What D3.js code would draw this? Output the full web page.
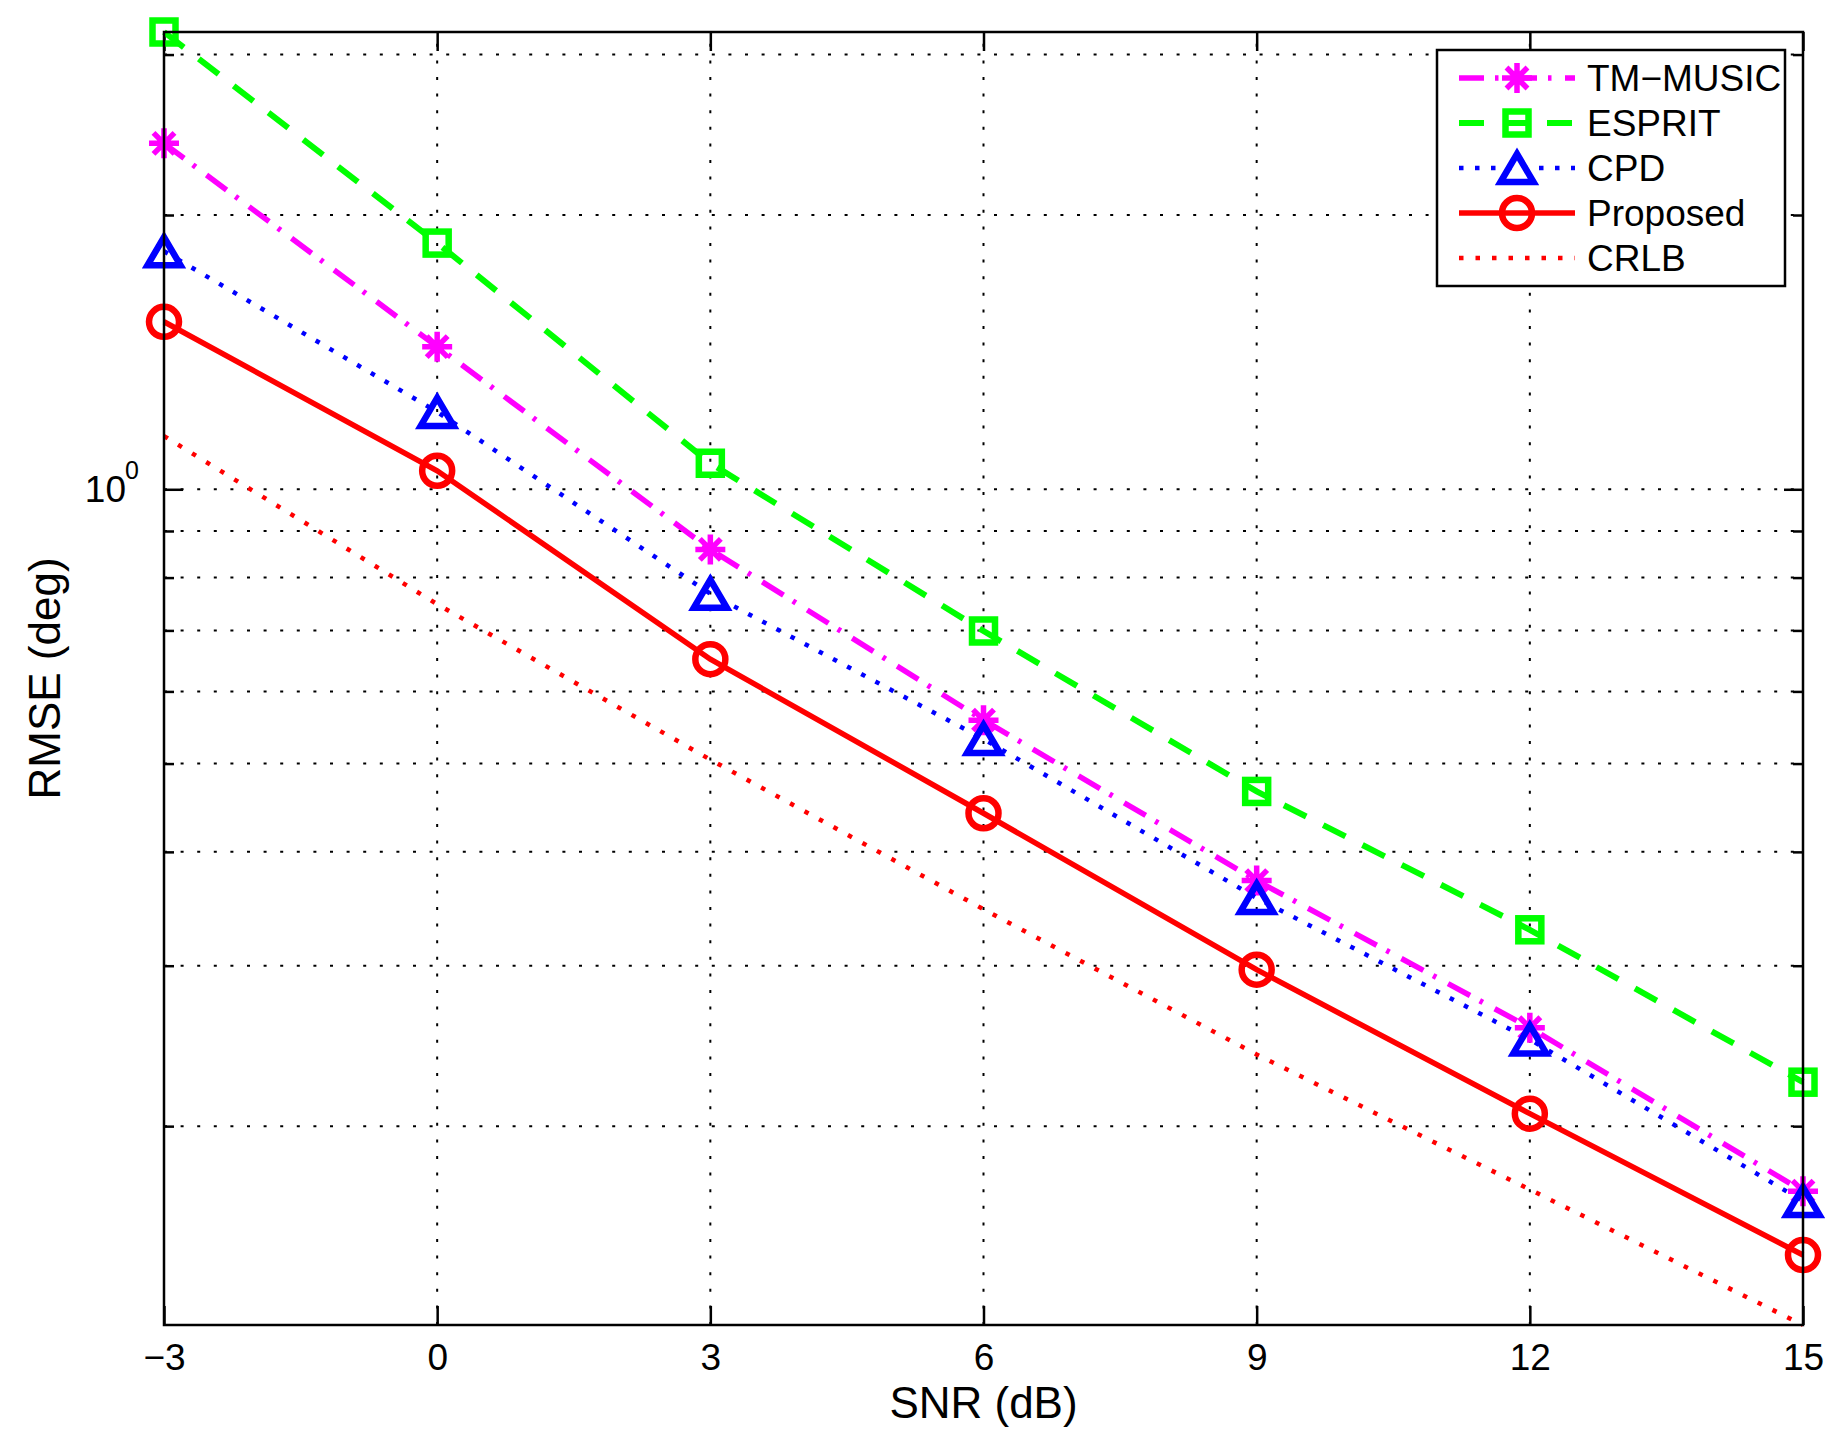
<!DOCTYPE html>
<html>
<head>
<meta charset="utf-8">
<script src="https://cdn.jsdelivr.net/npm/d3@7"></script>
<style>
  body { margin: 0; background: #fff; }
  svg text { font-family: "Liberation Sans", Arial, Helvetica, sans-serif; fill: #000; }
</style>
</head>
<body>
<div id="chart"></div>
<script>
// Data (RMSE in degrees vs SNR in dB)
var snr = [-3, 0, 3, 6, 9, 12, 15];
var tmMusic = [2.397, 1.434, 0.859, 0.558, 0.372, 0.2565, 0.1697];
var esprit = [3.176, 1.863, 1.068, 0.699, 0.466, 0.3285, 0.2235];
var cpd = [1.825, 1.216, 0.768, 0.532, 0.356, 0.249, 0.1655];
var proposed = [1.527, 1.048, 0.651, 0.441, 0.297, 0.2064, 0.1444];
var crlb = [1.144, 0.748, 0.505, 0.346, 0.2397, 0.1704, 0.121];

var seriesNames = ["TM\u2212MUSIC", "ESPRIT", "CPD", "Proposed", "CRLB"];
var xTicks = [-3, 0, 3, 6, 9, 12, 15];
var yMajorTicks = [1];
var yMinorTicks = [0.2, 0.3, 0.4, 0.5, 0.6, 0.7, 0.8, 0.9, 2, 3];
var yDomain = [0.121, 3.176];

// SVG and plot area
var svgWidth = 1847;
var svgHeight = 1449;
var plot = { left: 164, right: 1803, top: 32, bottom: 1325 };

var svg = d3.select("#chart")
    .append("svg")
    .attr("width", svgWidth)
    .attr("height", svgHeight);

var x = d3.scaleLinear().domain([-3, 15]).range([plot.left, plot.right]);
var y = d3.scaleLog().domain(yDomain).range([plot.bottom, plot.top]);

// Dotted grid
var grid = svg.append("g")
    .attr("stroke", "#000")
    .attr("stroke-width", 2)
    .attr("stroke-dasharray", "3,13.6");

grid.selectAll(".vgrid")
    .data(xTicks.slice(1, -1))
    .enter()
    .append("line")
    .attr("x1", d => x(d)).attr("x2", d => x(d))
    .attr("y1", plot.bottom).attr("y2", plot.top);

grid.selectAll(".hgrid")
    .data(yMajorTicks.concat(yMinorTicks))
    .enter()
    .append("line")
    .attr("x1", plot.left).attr("x2", plot.right)
    .attr("y1", d => y(d)).attr("y2", d => y(d));

// Axes with inward ticks on all four sides
function styleAxis(g) {
    g.select(".domain").remove();
    g.selectAll(".tick line").attr("stroke", "#000").attr("stroke-width", 2.5);
    g.selectAll(".tick text").attr("font-size", 37);
}

svg.append("g")
    .attr("transform", `translate(0, ${plot.bottom})`)
    .call(d3.axisBottom(x).tickValues(xTicks).tickSize(-19).tickPadding(19)
        .tickFormat(d => d < 0 ? "\u2212" + Math.abs(d) : d))
    .call(styleAxis);

svg.append("g")
    .attr("transform", `translate(0, ${plot.top})`)
    .call(d3.axisTop(x).tickValues(xTicks).tickSize(-19).tickFormat(""))
    .call(styleAxis);

[["left", plot.left, d3.axisLeft], ["right", plot.right, d3.axisRight]].forEach(function(a) {
    svg.append("g")
        .attr("transform", `translate(${a[1]}, 0)`)
        .call(a[2](y).tickValues(yMajorTicks).tickSize(-19).tickFormat(""))
        .call(styleAxis);
    svg.append("g")
        .attr("transform", `translate(${a[1]}, 0)`)
        .call(a[2](y).tickValues(yMinorTicks).tickSize(-10).tickFormat(""))
        .call(styleAxis);
});

// 10^0 label
svg.append("text")
    .attr("x", 126)
    .attr("y", y(1) + 13)
    .attr("text-anchor", "end")
    .attr("font-size", 37)
    .text("10");
svg.append("text")
    .attr("x", 125)
    .attr("y", y(1) - 10)
    .attr("font-size", 25)
    .text("0");

// Series definitions
var series = [
    { name: seriesNames[0], values: tmMusic, color: "#ff00ff", width: 5.5, dash: "25,11,3.5,13.5", marker: "asterisk" },
    { name: seriesNames[1], values: esprit, color: "#00ff00", width: 6, dash: "25,19", marker: "square" },
    { name: seriesNames[2], values: cpd, color: "#0000ff", width: 4.5, dash: "4.5,11.5", marker: "triangle" },
    { name: seriesNames[3], values: proposed, color: "#ff0000", width: 5.5, dash: null, marker: "circle" },
    { name: seriesNames[4], values: crlb, color: "#ff0000", width: 4.5, dash: "4.5,12", marker: null }
];

var line = d3.line()
    .x(d => x(d[0]))
    .y(d => y(d[1]));

function drawMarker(g, type, color) {
    if (type === "square") {
        g.append("rect")
            .attr("x", -11.5).attr("y", -11.5).attr("width", 23).attr("height", 23)
            .attr("fill", "none").attr("stroke", color).attr("stroke-width", 6.5);
    } else if (type === "circle") {
        g.append("circle")
            .attr("r", 15)
            .attr("fill", "none").attr("stroke", color).attr("stroke-width", 6.5);
    } else if (type === "triangle") {
        g.append("path")
            .attr("d", "M0,-14L16.5,14L-16.5,14Z")
            .attr("fill", "none").attr("stroke", color).attr("stroke-width", 6.5)
            .attr("stroke-linejoin", "miter");
    } else if (type === "asterisk") {
        g.append("path")
            .attr("d", "M-15,0H15M0,-15V15M-10.5,-10.5L10.5,10.5M-10.5,10.5L10.5,-10.5")
            .attr("fill", "none").attr("stroke", color).attr("stroke-width", 5.5);
    }
}

series.forEach(function(s) {
    var pts = snr.map((v, i) => [v, s.values[i]]);
    var g = svg.append("g");
    g.append("path")
        .datum(pts)
        .attr("d", line)
        .attr("fill", "none")
        .attr("stroke", s.color)
        .attr("stroke-width", s.width)
        .attr("stroke-dasharray", s.dash);
    if (s.marker) {
        g.selectAll(".mk")
            .data(pts)
            .enter()
            .append("g")
            .attr("transform", d => `translate(${x(d[0])}, ${y(d[1])})`)
            .each(function() { drawMarker(d3.select(this), s.marker, s.color); });
    }
});

// Plot box
svg.append("rect")
    .attr("x", plot.left).attr("y", plot.top)
    .attr("width", plot.right - plot.left).attr("height", plot.bottom - plot.top)
    .attr("fill", "none").attr("stroke", "#000").attr("stroke-width", 2.5);

// Axis labels
svg.append("text")
    .attr("x", (plot.left + plot.right) / 2)
    .attr("y", 1418)
    .attr("text-anchor", "middle")
    .attr("font-size", 44)
    .text("SNR (dB)");

svg.append("text")
    .attr("transform", `translate(60, ${(plot.top + plot.bottom) / 2}) rotate(-90)`)
    .attr("text-anchor", "middle")
    .attr("font-size", 44)
    .text("RMSE (deg)");

// Legend
var legend = svg.append("g");
legend.append("rect")
    .attr("x", 1437).attr("y", 50).attr("width", 348).attr("height", 236)
    .attr("fill", "#fff").attr("stroke", "#000").attr("stroke-width", 2.5);

series.forEach(function(s, i) {
    var cy = 78 + i * 45;
    var row = legend.append("g");
    row.append("line")
        .attr("x1", 1459).attr("x2", 1575)
        .attr("y1", cy).attr("y2", cy)
        .attr("stroke", s.color)
        .attr("stroke-width", s.width)
        .attr("stroke-dasharray", s.dash);
    if (s.marker) {
        var m = row.append("g").attr("transform", `translate(1517, ${cy})`);
        drawMarker(m, s.marker, s.color);
    }
    row.append("text")
        .attr("x", 1587)
        .attr("y", cy + 13)
        .attr("font-size", 37)
        .text(s.name);
});
</script>
</body>
</html>
